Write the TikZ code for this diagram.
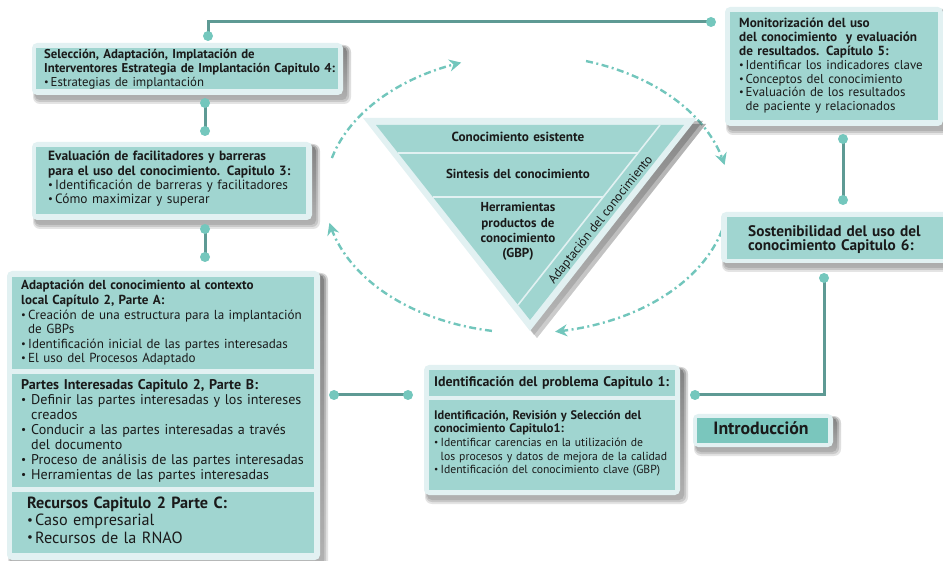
\documentclass[tikz,border=0pt]{standalone}
\usepackage{fontspec}
\usepackage{graphicx}
\setmainfont{PT Sans}
\usetikzlibrary{arrows.meta}
\definecolor{tealfill}{HTML}{A0D5D0}
\definecolor{tealrim}{HTML}{E2F1F2}
\definecolor{tealline}{HTML}{5E9A94}
\definecolor{tealdot}{HTML}{74C7BD}
\definecolor{tealarc}{HTML}{72C6BC}
\definecolor{tealintro}{HTML}{7AC6BD}
\definecolor{txt}{HTML}{1A1A1A}
\definecolor{shade}{HTML}{7E8B8B}
\tikzset{
  rim/.style={fill=tealrim, rounded corners=5pt},
  panel/.style={fill=tealfill},
  lbl/.style={anchor=base west, inner sep=0pt, align=left, text width=#1, text=txt},
  clbl/.style={anchor=base, inner sep=0pt, align=center, text width=#1, text=txt},
  conn/.style={draw=tealline, line width=3pt},
  dot/.style={circle, fill=tealdot, minimum size=10pt, inner sep=0pt},
  cyc/.style={draw=tealarc, line width=2.4pt, dash pattern=on 7pt off 3.5pt on 2pt off 3.5pt,
    -{Stealth[length=12pt, width=12pt, inset=4pt]}},
}
\newcommand{\fs}[2]{\fontsize{#1}{#2}\selectfont}
\newcommand{\bul}[1]{\makebox[#1][l]{\raisebox{0.08em}{\scalebox{0.8}{•}}}}
\newcommand{\shadowrect}[4]{%
  \fill[shade, opacity=0.12, rounded corners=7pt] (#1+1,#2+2) rectangle (#3+8,#4+9);
  \fill[shade, opacity=0.16, rounded corners=6pt] (#1+2,#2+3) rectangle (#3+6,#4+7);
  \fill[shade, opacity=0.22, rounded corners=5pt] (#1+3,#2+4) rectangle (#3+4,#4+5);
}
\begin{document}
\begin{tikzpicture}[x=1pt,y=-1pt]
\useasboundingbox (0,0) rectangle (943,561);
\clip (0,0) rectangle (943,561);

% ---------- cycle arcs ----------
\draw[cyc] plot[domain=195:251, samples=50] ({527+202*cos(\x)},{194+139*sin(\x)});
\draw[cyc] plot[domain=287:348, samples=50] ({527+202*cos(\x)},{194+139*sin(\x)});
\draw[cyc] plot[domain=15:82, samples=50] ({527+202*cos(\x)},{194+139*sin(\x)});
\draw[cyc] plot[domain=100:168, samples=50] ({527+202*cos(\x)},{194+139*sin(\x)});

% ---------- central triangle ----------
\fill[shade, opacity=0.25] (370,124) -- (706,124) -- (537,338) -- cycle;
\fill[shade, opacity=0.2] (368,121) -- (703,121) -- (534,335) -- cycle;
\fill[tealrim] (363,118) -- (697,118) -- (530,331) -- cycle;
\fill[tealfill] (376,125) -- (684,125) -- (530,320) -- cycle;
\draw[tealrim, line width=1.6pt] (660,125) -- (518,305);
\draw[tealrim, line width=1.6pt] (398,153) -- (638,153);
\draw[tealrim, line width=1.6pt] (433,197) -- (603,197);
\node[clbl=150pt, font=\fs{13.2}{15.4}\bfseries] (k1) at (518,141.7) {Conocimiento esistente};
\node[clbl=150pt, font=\fs{13}{15.4}\bfseries] (k2) at (518,179) {Sintesis del conocimiento};
\node[clbl=85pt, font=\fs{13}{15.4}\bfseries] (k3) at (518,211.7) {Herramientas\\productos de\\conocimiento\\(GBP)};
\node[inner sep=0pt, rotate=51.6, font=\fs{12.8}{14}, text=txt] (k4) at (601,220) {Adaptación del conocimiento};

% ---------- box 4 ----------
\shadowrect{32}{43}{343}{95}
\fill[rim] (32,43) rectangle (343,95);
\fill[panel] (36,48) rectangle (338,89);
\node[lbl=294pt, font=\fs{12.8}{13.8}] (t4) at (44,59) {\textbf{Selección, Adaptación, Implatación de}\\
\textbf{Interventores Estrategia de Implantación Capitulo 4:}\\
\bul{6.5pt}Estrategias de implantación};

% ---------- box 3 ----------
\shadowrect{32}{142}{312}{220}
\fill[rim] (32,142) rectangle (312,220);
\fill[panel] (36,147) rectangle (306,214);
\node[lbl=255pt, font=\fs{13.4}{14.3}] (t3) at (48,161) {\textbf{Evaluación de facilitadores y barreras}\\
\textbf{para el uso del conocimiento. Capitulo 3:}\\
\bul{7pt}Identificación de barreras y facilitadores\\
\bul{7pt}Cómo maximizar y superar};

% ---------- box 2 (A, B, C) ----------
\shadowrect{7}{271}{320}{560}
\fill[rim] (7,271) rectangle (320,560);
\fill[panel] (12,277) rectangle (314,369);
\fill[panel] (12,374) rectangle (314,487);
\fill[panel] (12,492) rectangle (314,553);
\node[lbl=290pt, font=\fs{13.1}{14.6}] (t2a) at (21,290) {\textbf{Adaptación del conocimiento al contexto}\\
\textbf{local Capítulo 2, Parte A:}\\
\bul{7pt}Creación de una estructura para la implantación\\
\hspace*{7pt}de GBPs\\
\bul{7pt}Identificación inicial de las partes interesadas\\
\bul{7pt}El uso del Procesos Adaptado};
\node[lbl=290pt, font=\fs{14.1}{15}] (t2b) at (21,390) {\textbf{Partes Interesadas Capitulo 2, Parte B:}\\
\bul{10pt}Definir las partes interesadas y los intereses\\
\hspace*{10pt}creados\\
\bul{10pt}Conducir a las partes interesadas a través\\
\hspace*{10pt}del documento\\
\bul{10pt}Proceso de análisis de las partes interesadas\\
\bul{10pt}Herramientas de las partes interesadas};
\node[lbl=280pt, font=\fs{16.2}{17.5}] (t2c) at (27,508) {\textbf{Recursos Capitulo 2 Parte C:}\\
\bul{8pt}Caso empresarial\\
\bul{8pt}Recursos de la RNAO};

% ---------- box 1 ----------
\shadowrect{424}{365}{680}{495}
\fill[rim] (424,365) rectangle (680,495);
\fill[panel] (429,370) rectangle (675,396);
\fill[panel] (429,400) rectangle (675,490);
\node[lbl=240pt, font=\fs{13.9}{14}\bfseries] (t1h) at (434,387) {Identificación del problema Capitulo 1:};
\node[lbl=240pt, font=\fs{11.7}{13.7}] (t1b) at (434,419) {{\fs{12.4}{13.7}\bfseries Identificación, Revisión y Selección del}\\
{\fs{12.4}{13.7}\bfseries conocimiento Capitulo1:}\\
\bul{6.5pt}Identificar carencias en la utilización de\\
\hspace*{6.5pt}los procesos y datos de mejora de la calidad\\
\bul{6.5pt}Identificación del conocimiento clave (GBP)};

% ---------- introduccion ----------
\shadowrect{693}{414}{833}{447}
\fill[rim] (693,414) rectangle (833,447);
\fill[tealintro] (697,418) rectangle (828,443);
\node[anchor=base, inner sep=0pt, font=\fs{17.8}{18}\bfseries, text=txt] (tin) at (761,434) {Introducción};

% ---------- box 5 ----------
\shadowrect{725}{7}{943}{126}
\fill[rim] (725,7) rectangle (943,126);
\fill[panel] (730,12) rectangle (938,120);
\node[lbl=198pt, font=\fs{13.2}{13.9}] (t5) at (739,27.5) {\textbf{Monitorización del uso}\\
\textbf{del conocimiento\ \ y evaluación}\\
\textbf{de resultados. Capítulo 5:}\\
{\fs{12.9}{13.9}\bul{6.5pt}Identificar los indicadores clave}\\
{\fs{12.9}{13.9}\bul{6.5pt}Conceptos del conocimiento}\\
{\fs{12.9}{13.9}\bul{6.5pt}Evaluación de los resultados}\\
{\fs{12.9}{13.9}\hspace*{6.5pt}de paciente y relacionados}};

% ---------- box 6 ----------
\shadowrect{721}{212}{950}{263}
\fill[rim] (721,212) rectangle (950,263);
\fill[panel] (727,217) rectangle (950,259);
\node[lbl=194pt, font=\fs{15.3}{14}\bfseries] (t6) at (748,236.5) {Sostenibilidad del uso del\\conocimiento Capitulo 6:};

% ---------- connectors ----------
\coordinate (p4t) at (208,36);
\coordinate (p5l) at (711,22);
\coordinate (p4b) at (205,103);
\coordinate (p3t) at (205,131);
\coordinate (p3b) at (205,229);
\coordinate (p2t) at (205,257);
\coordinate (p2r) at (334,395);
\coordinate (p1l) at (408,395);
\coordinate (p1r) at (695,395);
\coordinate (p6b) at (824,278);
\coordinate (p5b) at (843,139);
\coordinate (p6t) at (843,200);
\draw[conn] (p4t) |- (p5l);
\draw[conn] (p4b) -- (p3t);
\draw[conn] (p3b) -- (p2t);
\draw[conn] (p2r) -- (p1l);
\draw[conn] (p1r) -| (p6b);
\draw[conn] (p5b) -- (p6t);
\foreach \p in {p4t,p5l,p4b,p3t,p3b,p2t,p2r,p1l,p1r,p6b,p5b,p6t}
  \node[dot] (d-\p) at (\p) {};
\end{tikzpicture}
\end{document}
